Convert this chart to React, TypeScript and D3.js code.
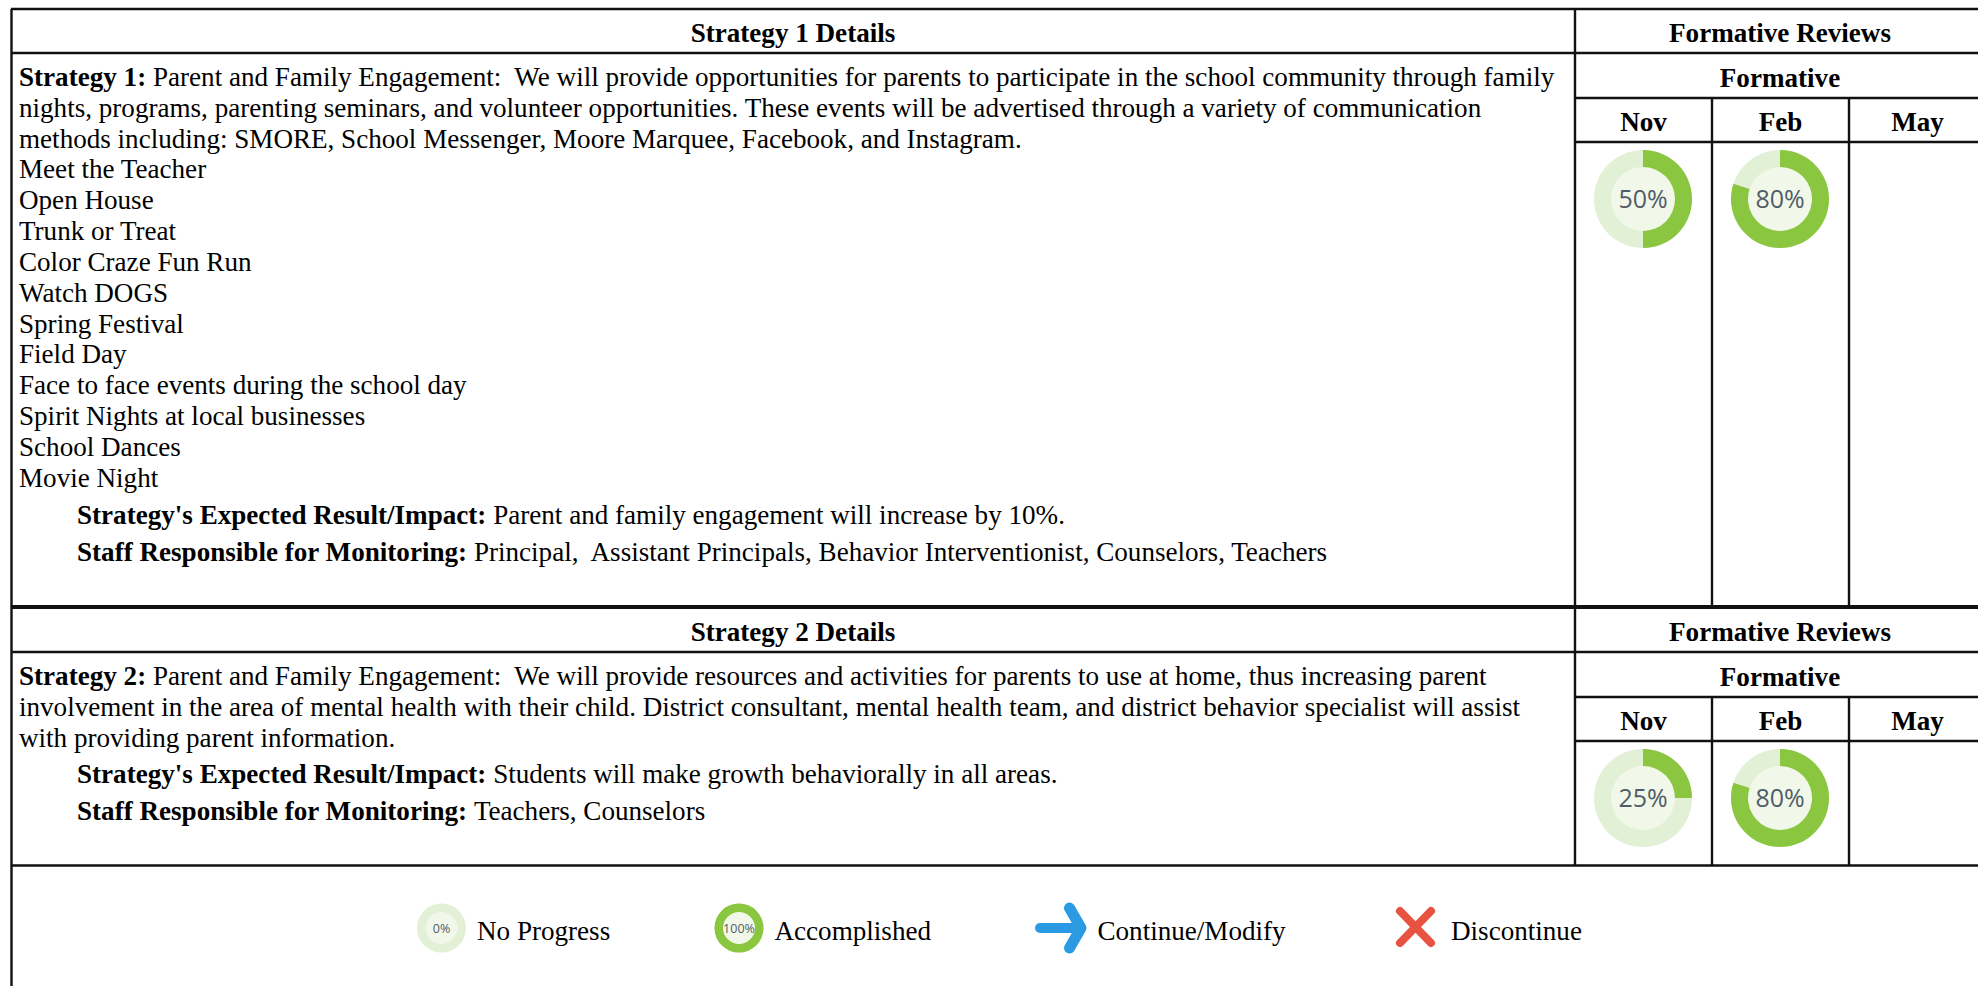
import React from 'react';
import * as d3 from 'd3';

const months = ['Nov', 'Feb', 'May'];
const strategy1Progress = [50, 80];
const strategy2Progress = [25, 80];

const strategy1Lines = [
  'Parent and Family Engagement:  We will provide opportunities for parents to participate in the school community through family',
  'nights, programs, parenting seminars, and volunteer opportunities. These events will be advertised through a variety of communication',
  'methods including: SMORE, School Messenger, Moore Marquee, Facebook, and Instagram.',
  'Meet the Teacher',
  'Open House',
  'Trunk or Treat',
  'Color Craze Fun Run',
  'Watch DOGS',
  'Spring Festival',
  'Field Day',
  'Face to face events during the school day',
  'Spirit Nights at local businesses',
  'School Dances',
  'Movie Night',
];
const strategy2Lines = [
  'Parent and Family Engagement:  We will provide resources and activities for parents to use at home, thus increasing parent',
  'involvement in the area of mental health with their child. District consultant, mental health team, and district behavior specialist will assist',
  'with providing parent information.',
];
const strategy1Result = 'Parent and family engagement will increase by 10%.';
const strategy1Staff = 'Principal,  Assistant Principals, Behavior Interventionist, Counselors, Teachers';
const strategy2Result = 'Students will make growth behaviorally in all areas.';
const strategy2Staff = 'Teachers, Counselors';

const WIDTH = 1978;
const HEIGHT = 986;
const GREEN = '#8ac63f';
const TRACK = '#e2f0d6';
const INNER = '#f1f8ea';
const INK = '#111';
const SERIF = '"Liberation Serif", serif';
const FONT_SIZE = 27.1;

const angle = d3.scaleLinear().domain([0, 100]).range([0, Math.PI * 2]);
const arc = d3.arc();

function Donut({ value, cx, cy, scale = 1 }) {
  const ring = { innerRadius: 32, outerRadius: 49 };
  return (
    <g transform={`translate(${cx},${cy}) scale(${scale})`}>
      <circle r={49} fill={TRACK} />
      <circle r={32} fill={INNER} />
      <path
        fill={GREEN}
        d={arc({ ...ring, startAngle: 0, endAngle: angle(value) }) || ''}
      />
      <text
        textAnchor="middle"
        y={9}
        fontSize={25}
        fontFamily='"Open Sans", sans-serif'
        fill="#525c68"
      >
        {value}%
      </text>
    </g>
  );
}

function Body({ x, y, label, text }) {
  return (
    <text x={x} y={y} fontFamily={SERIF} fontSize={FONT_SIZE} fill="#000" style={{ whiteSpace: 'pre' }}>
      {label && <tspan fontWeight="bold">{label} </tspan>}
      {text}
    </text>
  );
}

function Head({ x, y, children }) {
  return (
    <text x={x} y={y} textAnchor="middle" fontFamily={SERIF} fontSize={FONT_SIZE} fontWeight="bold" fill="#000">
      {children}
    </text>
  );
}

function Block({ top, title, rows, bottom, progress }) {
  const columns = d3.scaleBand().domain(months).range([1575, 1986]);
  return (
    <g>
      <Head x={793} y={top + 33}>{title}</Head>
      <Head x={1780} y={top + 33}>Formative Reviews</Head>
      <Head x={1780} y={top + 78}>Formative</Head>
      {months.map((m) => (
        <Head key={m} x={columns(m) + columns.bandwidth() / 2} y={top + 122}>{m}</Head>
      ))}
      {progress.map((v, i) => (
        <Donut key={i} value={v} cx={columns(months[i]) + columns.bandwidth() / 2 - 0.5} cy={top + 190} />
      ))}
      <g stroke={INK} strokeWidth={2.4}>
        <line x1={11} x2={WIDTH} y1={top + 44} y2={top + 44} />
        <line x1={1575} x2={WIDTH} y1={top + 89} y2={top + 89} />
        <line x1={1575} x2={WIDTH} y1={top + 133} y2={top + 133} />
        {months.slice(1).map((m) => (
          <line key={m} x1={columns(m)} x2={columns(m)} y1={top + 89} y2={bottom} />
        ))}
      </g>
      {rows}
    </g>
  );
}

function App() {
  const lineY = (start, i) => start + i * 30.82;
  const icon = d3.line();
  return (
    <svg
      width={WIDTH}
      height={HEIGHT}
      style={{ position: 'absolute', top: 0, left: 0, display: 'block', background: '#fff' }}
    >
      <Block
        top={9}
        title="Strategy 1 Details"
        bottom={607}
        progress={strategy1Progress}
        rows={
          <>
            {strategy1Lines.map((t, i) => (
              <Body key={i} x={19} y={lineY(86, i)} label={i === 0 ? 'Strategy 1:' : null} text={t} />
            ))}
            <Body x={77} y={524} label="Strategy's Expected Result/Impact:" text={strategy1Result} />
            <Body x={77} y={561} label="Staff Responsible for Monitoring:" text={strategy1Staff} />
          </>
        }
      />
      <Block
        top={608}
        title="Strategy 2 Details"
        bottom={865.5}
        progress={strategy2Progress}
        rows={
          <>
            {strategy2Lines.map((t, i) => (
              <Body key={i} x={19} y={lineY(685, i)} label={i === 0 ? 'Strategy 2:' : null} text={t} />
            ))}
            <Body x={77} y={783} label="Strategy's Expected Result/Impact:" text={strategy2Result} />
            <Body x={77} y={820} label="Staff Responsible for Monitoring:" text={strategy2Staff} />
          </>
        }
      />
      <g stroke={INK} fill="none">
        <line x1={11} x2={WIDTH} y1={9} y2={9} strokeWidth={2.4} />
        <line x1={11.5} x2={11.5} y1={9} y2={HEIGHT} strokeWidth={2.4} />
        <line x1={1575} x2={1575} y1={9} y2={865} strokeWidth={2.4} />
        <line x1={11} x2={WIDTH} y1={607} y2={607} strokeWidth={4} />
        <line x1={11} x2={WIDTH} y1={865.5} y2={865.5} strokeWidth={2.4} />
      </g>

      <Donut value={0} cx={441.5} cy={928} scale={0.5} />
      <Donut value={100} cx={739} cy={928} scale={0.5} />
      <Body x={477} y={940} text="No Progress" />
      <Body x={774.5} y={940} text="Accomplished" />
      <Body x={1097.5} y={940} text="Continue/Modify" />
      <Body x={1451} y={940} text="Discontinue" />
      <g fill="none" stroke="#2a9ae2" strokeLinecap="round" strokeLinejoin="round">
        <path strokeWidth={10} d={icon([[1040, 928], [1078, 928]]) || ''} />
        <path strokeWidth={11} d={icon([[1069.5, 908], [1081, 928], [1069.5, 948]]) || ''} />
      </g>
      <g fill="none" stroke="#e85341" strokeWidth={8} strokeLinecap="round">
        <path d={icon([[1400, 911], [1431, 943]]) || ''} />
        <path d={icon([[1431, 911], [1400, 943]]) || ''} />
      </g>
    </svg>
  );
}

export default App;
